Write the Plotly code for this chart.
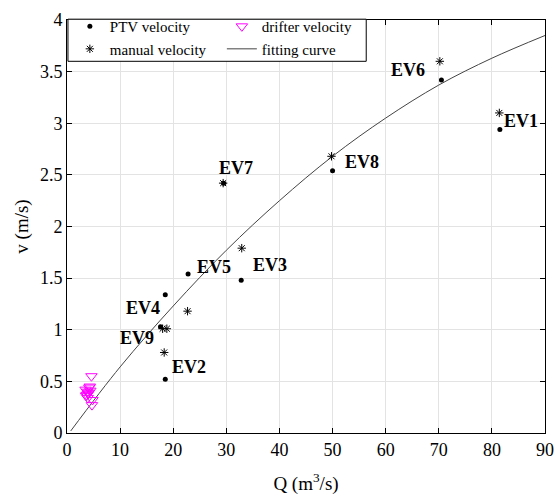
import plotly.graph_objects as go

# ---- data ----
ev_labels = ["EV1", "EV2", "EV3", "EV4", "EV5", "EV6", "EV7", "EV8", "EV9"]
ptv_q = [81.5, 18.5, 32.8, 18.5, 22.8, 70.5, 29.5, 50.0, 17.6]
ptv_v = [2.94, 0.52, 1.48, 1.34, 1.54, 3.42, 2.42, 2.54, 1.03]

manual_q = [81.4, 18.3, 32.9, 18.0, 22.7, 70.2, 29.4, 49.8, 18.8]
manual_v = [3.10, 0.78, 1.79, 1.01, 1.18, 3.60, 2.42, 2.68, 1.01]

drifter_q = [3.5, 3.8, 4.0, 4.2, 3.6, 4.4, 3.9, 4.1, 4.6, 4.7, 4.8, 3.7, 4.3]
drifter_v = [0.42, 0.40, 0.38, 0.44, 0.36, 0.41, 0.34, 0.39, 0.55, 0.27, 0.32, 0.37, 0.45]

fit_q = [0.7, 10, 20, 30, 40, 50, 60, 70, 80, 90]
fit_v = [0.02, 0.64, 1.23, 1.77, 2.25, 2.68, 3.05, 3.37, 3.63, 3.85]

x_ticks = [0, 10, 20, 30, 40, 50, 60, 70, 80, 90]
y_ticks = [0, 0.5, 1, 1.5, 2, 2.5, 3, 3.5, 4]

# label anchor points (data coords) for the EV annotations
label_q = [85.5, 23.0, 38.2, 14.3, 27.7, 64.2, 31.8, 55.5, 13.2]
label_v = [3.02, 0.64, 1.63, 1.21, 1.61, 3.52, 2.57, 2.62, 0.92]

FONT = "Liberation Serif, Times New Roman, serif"

fig = go.Figure()

fig.add_trace(go.Scatter(
    x=fit_q, y=fit_v, mode="lines", name="fitting curve",
    line=dict(color="#444444", width=1, shape="spline"),
    legend="legend2", legendrank=2,
))
fig.add_trace(go.Scatter(
    x=ptv_q, y=ptv_v, mode="markers", name="PTV velocity",
    marker=dict(symbol="circle", size=5, color="black"),
    legend="legend", legendrank=1,
))
fig.add_trace(go.Scatter(
    x=manual_q, y=manual_v, mode="markers", name="manual velocity",
    marker=dict(symbol="asterisk-open", size=7, color="black",
                line=dict(color="black", width=1)),
    legend="legend", legendrank=2,
))
fig.add_trace(go.Scatter(
    x=drifter_q, y=drifter_v, mode="markers", name="drifter velocity",
    marker=dict(symbol="triangle-down-open", size=10, color="#FF00FF",
                line=dict(color="#FF00FF", width=1)),
    legend="legend2", legendrank=1,
))

for lab, lq, lv in zip(ev_labels, label_q, label_v):
    fig.add_annotation(x=lq, y=lv, text=lab, showarrow=False,
                       font=dict(family=FONT, size=18, color="black", weight="bold"))

# legend frame
fig.add_shape(type="rect", xref="paper", yref="paper",
              x0=0.002, x1=0.626, y0=0.9, y1=1.002,
              line=dict(color="black", width=1), fillcolor="white", layer="above")

axis_common = dict(
    showline=True, linecolor="black", linewidth=1, mirror="ticks",
    ticks="inside", ticklen=5, tickcolor="black",
    showgrid=True, gridcolor="#e3e3e3", gridwidth=1, zeroline=False,
    automargin=False,
    tickfont=dict(family=FONT, size=18, color="black"),
)

fig.update_layout(
    width=555, height=499,
    margin=dict(l=67, r=10, t=20, b=66),
    paper_bgcolor="white", plot_bgcolor="white",
    font=dict(family=FONT, color="black"),
    xaxis=dict(range=[0, 90], tickvals=x_ticks,
               title=dict(text="Q (m<sup>3</sup>/s)", font=dict(family=FONT, size=19), standoff=18),
               **axis_common),
    yaxis=dict(range=[0, 4], tickvals=y_ticks,
               title=dict(text="v (m/s)", font=dict(family=FONT, size=19), standoff=6),
               **axis_common),
    legend=dict(x=0.006, y=1.024, xanchor="left", yanchor="top",
                bgcolor="rgba(0,0,0,0)", borderwidth=0,
                font=dict(family=FONT, size=15), tracegroupgap=0),
    legend2=dict(x=0.324, y=1.024, xanchor="left", yanchor="top",
                 bgcolor="rgba(0,0,0,0)", borderwidth=0,
                 font=dict(family=FONT, size=15), tracegroupgap=0),
)

fig.write_html("out.html", config={"displayModeBar": False},
               post_script="document.body.style.margin='0';")
